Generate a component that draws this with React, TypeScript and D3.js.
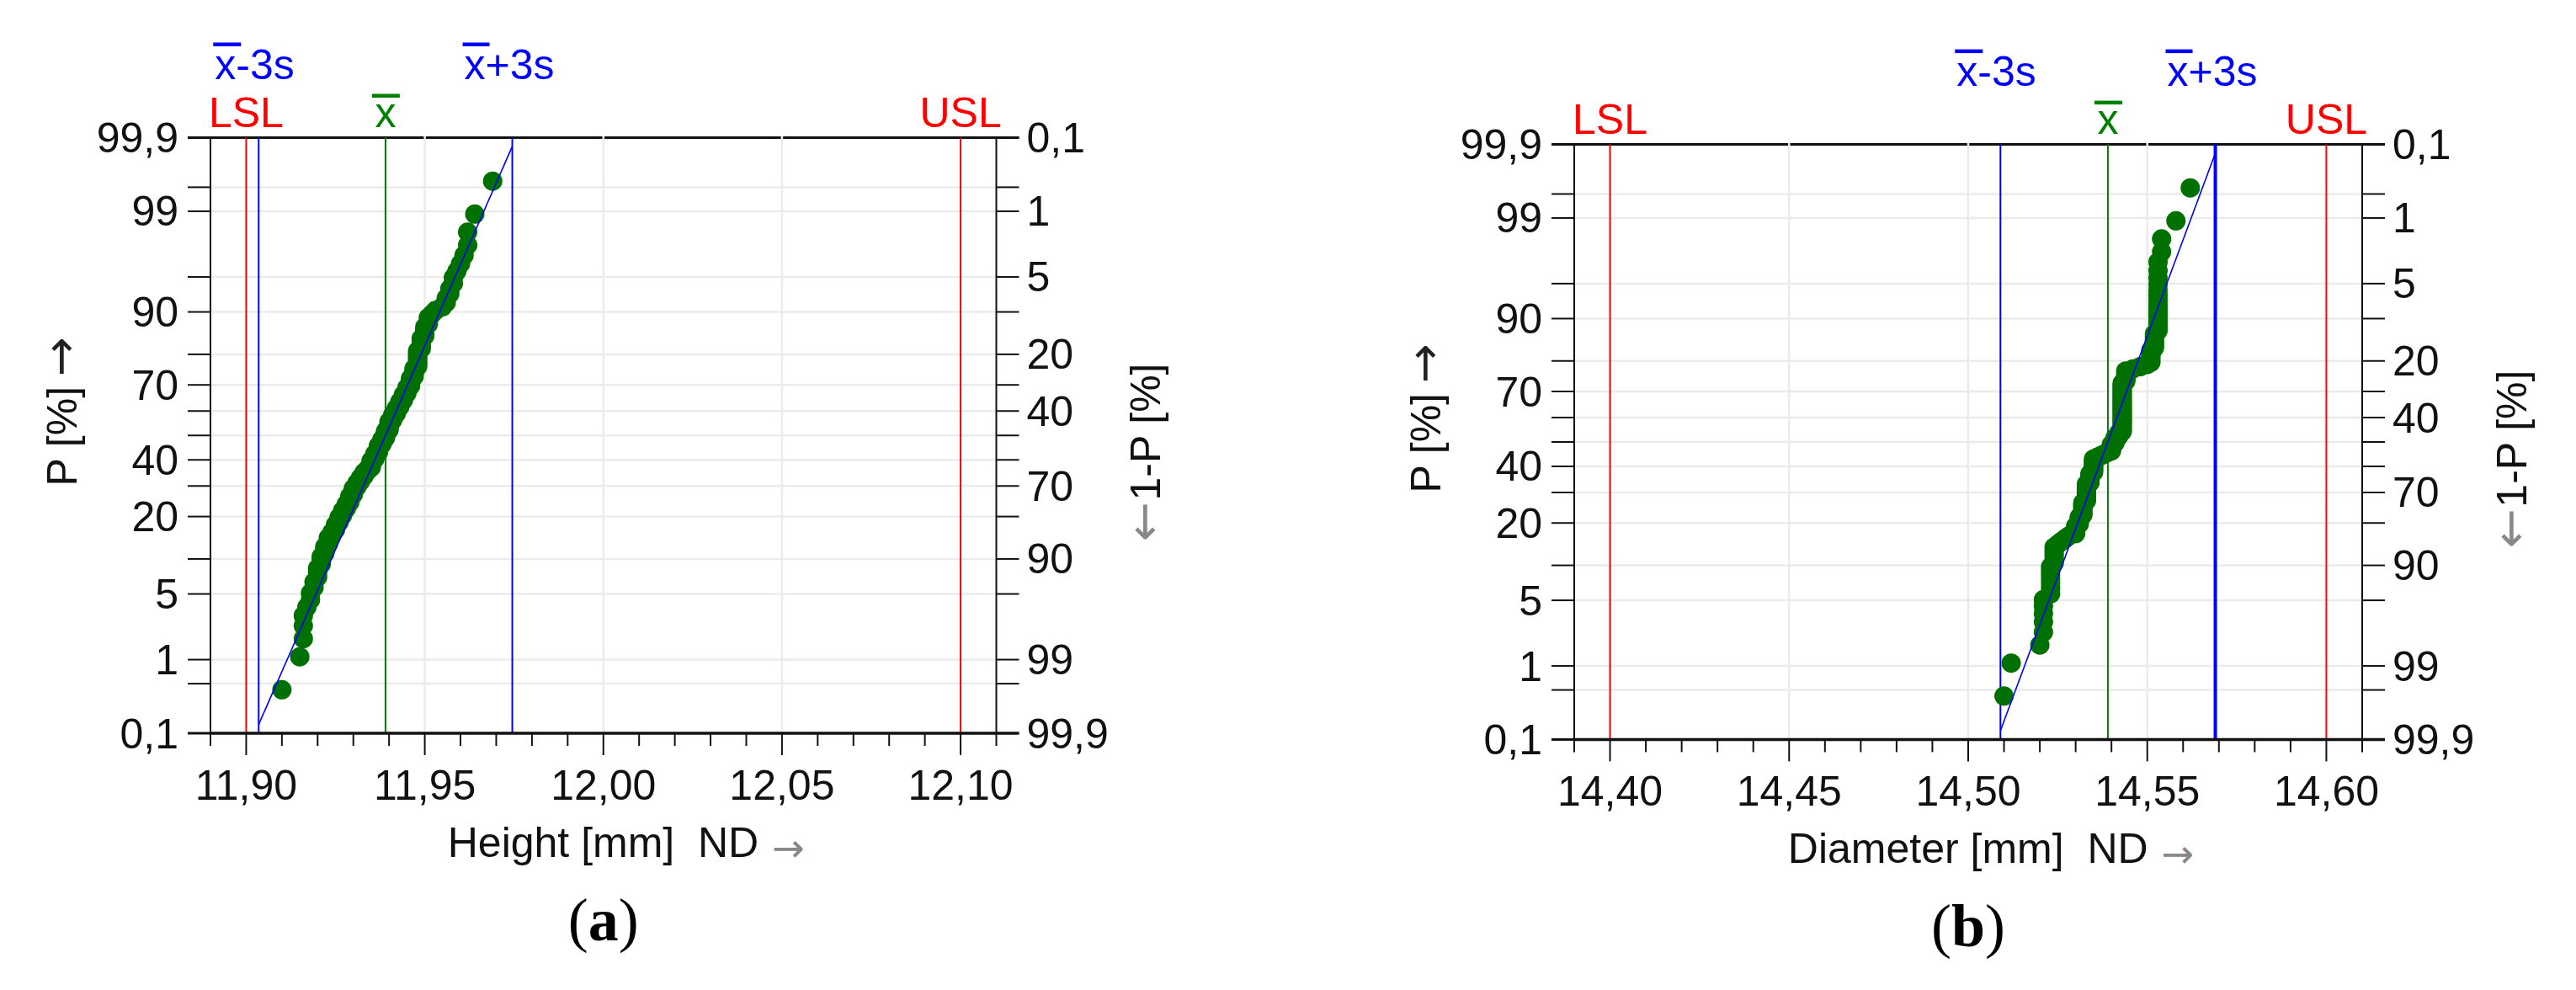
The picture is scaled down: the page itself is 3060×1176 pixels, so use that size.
import React from "react";
import * as d3 from "d3";

// measured values, sorted, as [value mm, how many parts]
const heightRuns: [number, number][] = [
  [11.91, 1], [11.915, 1], [11.916, 3], [11.917, 1], [11.918, 2], [11.919, 2],
  [11.92, 3], [11.921, 3], [11.922, 3], [11.923, 3], [11.924, 2], [11.925, 3],
  [11.926, 3], [11.927, 3], [11.928, 3], [11.929, 4], [11.93, 4], [11.931, 3],
  [11.932, 3], [11.933, 3], [11.934, 2], [11.935, 5], [11.936, 4], [11.937, 5],
  [11.938, 4], [11.939, 5], [11.94, 6], [11.941, 4], [11.942, 4], [11.943, 4],
  [11.944, 4], [11.945, 4], [11.946, 5], [11.947, 5], [11.948, 8], [11.949, 5],
  [11.95, 4], [11.951, 3], [11.952, 1], [11.953, 1], [11.955, 1], [11.956, 2],
  [11.957, 2], [11.958, 2], [11.959, 1], [11.96, 1], [11.961, 1], [11.962, 2],
  [11.964, 1], [11.969, 1],
];

const diameterRuns: [number, number][] = [
  [14.51, 1], [14.512, 1], [14.52, 1], [14.521, 5], [14.523, 7], [14.524, 6],
  [14.525, 1], [14.526, 1], [14.527, 1], [14.528, 1], [14.53, 4], [14.531, 4],
  [14.532, 7], [14.533, 10], [14.534, 6], [14.535, 9], [14.536, 1], [14.537, 1],
  [14.538, 1], [14.539, 1], [14.54, 5], [14.541, 4], [14.542, 3], [14.543, 29],
  [14.544, 6], [14.546, 1], [14.548, 1], [14.55, 1], [14.551, 6], [14.552, 6],
  [14.553, 15], [14.554, 2], [14.558, 1], [14.562, 1],
];

// [LSL, USL] and [x-3s, x, x+3s]
const heightSpec = [11.9, 12.1];
const heightStats = [11.9035, 11.939, 11.9745];
const diameterSpec = [14.4, 14.6];
const diameterStats = [14.509, 14.539, 14.569];

const heightDomain = [11.89, 12.11];
const diameterDomain = [14.39, 14.61];
const heightMajor = [11.9, 11.95, 12.0, 12.05, 12.1];
const diameterMajor = [14.4, 14.45, 14.5, 14.55, 14.6];

const pGrid = [0.1, 0.5, 1, 5, 10, 20, 30, 40, 50, 60, 70, 80, 90, 95, 99, 99.5, 99.9];
const pLeftLabels = [0.1, 1, 5, 20, 40, 70, 90, 99, 99.9];
const pRightLabels = [0.1, 1, 5, 20, 40, 70, 90, 99, 99.9]; // 1-P

const FONT = "'Liberation Sans', Arial, sans-serif";
const ARROW_FONT = "'DejaVu Sans', sans-serif";
const comma = (s: string) => s.replace(".", ",");

// inverse normal cdf (Acklam)
function invNorm(p: number) {
  const a = [-39.69683028665376, 220.9460984245205, -275.9285104469687, 138.357751867269, -30.66479806614716, 2.506628277459239];
  const b = [-54.47609879822406, 161.5858368580409, -155.6989798598866, 66.80131188771972, -13.28068155288572];
  const c = [-0.007784894002430293, -0.3223964580411365, -2.400758277161838, -2.549732539343734, 4.374664141464968, 2.938163982698783];
  const d = [0.007784695709041462, 0.3224671290700398, 2.445134137142996, 3.754408661907416];
  const pl = 0.02425;
  if (p < pl) {
    const q = Math.sqrt(-2 * Math.log(p));
    return (((((c[0] * q + c[1]) * q + c[2]) * q + c[3]) * q + c[4]) * q + c[5]) / ((((d[0] * q + d[1]) * q + d[2]) * q + d[3]) * q + 1);
  }
  if (p > 1 - pl) return -invNorm(1 - p);
  const q = p - 0.5;
  const r = q * q;
  return (((((a[0] * r + a[1]) * r + a[2]) * r + a[3]) * r + a[4]) * r + a[5]) * q /
    (((((b[0] * r + b[1]) * r + b[2]) * r + b[3]) * r + b[4]) * r + 1);
}

type Frame = { left: number; right: number; top: number; bottom: number };

function ProbPlot({ frame, domain, runs, spec, stats, major, xTitle, caption, hiWidth }: {
  frame: Frame; domain: number[]; runs: [number, number][]; spec: number[]; stats: number[];
  major: number[]; xTitle: string; caption: string; hiWidth: number;
}) {
  const { left, right, top, bottom } = frame;
  const x = d3.scaleLinear().domain(domain).range([left, right]);
  const y = d3.scaleLinear().domain([invNorm(0.001), invNorm(0.999)]).range([bottom, top]);
  const yP = (p: number) => y(invNorm(p / 100));
  const cx = (left + right) / 2;

  const values = runs.flatMap(([v, c]) => d3.range(c).map(() => v));
  const n = values.length;
  // Blom plotting positions
  const pts = values.map((v, i) => [x(v), y(invNorm((i + 1 - 0.375) / (n + 0.25)))]);

  const ticks = d3.range(Math.round(domain[0] * 100), Math.round(domain[1] * 100) + 1).map((k) => k / 100);
  const isMajor = (t: number) => major.some((m) => Math.abs(m - t) < 1e-6);
  const fit = d3.line()([[x(stats[0]), y(-3)], [x(stats[2]), y(3)]]) || "";

  return (
    <g fontFamily={FONT} fontSize={50}>
      {pGrid.map((p) => (
        <line key={"h" + p} x1={left} x2={right} y1={yP(p)} y2={yP(p)} stroke="#ebebeb" strokeWidth={2.5} />
      ))}
      <line x1={left - 27} x2={right + 27} y1={top} y2={top} stroke="#111" strokeWidth={3} />
      {major.filter((m) => m !== spec[0] && m !== spec[1]).map((m) => (
        <line key={"v" + m} x1={x(m)} x2={x(m)} y1={top - 2} y2={bottom} stroke="#ebebeb" strokeWidth={2.5} />
      ))}
      {/* axes */}
      <line x1={left} x2={left} y1={top} y2={bottom} stroke="#111" strokeWidth={2} />
      <line x1={right} x2={right} y1={top} y2={bottom} stroke="#111" strokeWidth={2} />
      {pGrid.map((p) => (
        <g key={"t" + p}>
          <line x1={left - 27} x2={left} y1={yP(p)} y2={yP(p)} stroke="#111" strokeWidth={2} />
          <line x1={right} x2={right + 27} y1={yP(p)} y2={yP(p)} stroke="#111" strokeWidth={2} />
        </g>
      ))}
      {pLeftLabels.map((p) => (
        <text key={"l" + p} x={left - 38} y={yP(p)} dy="0.35em" textAnchor="end" fill="#111">
          {comma(String(p))}
        </text>
      ))}
      {pRightLabels.map((q) => (
        <text key={"r" + q} x={right + 36} y={yP(100 - q)} dy="0.35em" fill="#111">
          {comma(String(q))}
        </text>
      ))}
      {ticks.map((t) => (
        <line key={"x" + t} x1={x(t)} x2={x(t)} y1={bottom} y2={bottom + (isMajor(t) ? 26 : 15)} stroke="#111" strokeWidth={2} />
      ))}
      {major.map((m) => (
        <text key={"xl" + m} x={x(m)} y={bottom + 79} textAnchor="middle" fill="#111">
          {comma(d3.format(".2f")(m))}
        </text>
      ))}

      {/* spec and process lines */}
      {spec.map((s) => (
        <line key={"s" + s} x1={x(s)} x2={x(s)} y1={top} y2={bottom} stroke="#ff0000" strokeWidth={2} />
      ))}
      <line x1={x(stats[0])} x2={x(stats[0])} y1={top} y2={bottom} stroke="#0000ff" strokeWidth={2} />
      <line x1={x(stats[2])} x2={x(stats[2])} y1={top} y2={bottom} stroke="#0000ff" strokeWidth={hiWidth} />
      <line x1={x(stats[1])} x2={x(stats[1])} y1={top} y2={bottom} stroke="#008000" strokeWidth={2} />

      {pts.map(([px, py], i) => (
        <circle key={i} cx={px} cy={py} r={11.5} fill="#007000" />
      ))}
      <path d={fit} stroke="#0000ff" strokeWidth={1.6} fill="none" />

      <line x1={left} x2={right + 27} y1={bottom} y2={bottom} stroke="#111" strokeWidth={3.5} />
      <line x1={left - 27} x2={left} y1={bottom} y2={bottom} stroke="#111" strokeWidth={3} />

      {/* header labels */}
      <text x={x(spec[0])} y={top - 13} textAnchor="middle" fill="#ff0000">LSL</text>
      <text x={x(spec[1])} y={top - 13} textAnchor="middle" fill="#ff0000">USL</text>
      <text x={x(stats[1])} y={top - 13} textAnchor="middle" fill="#008000">x</text>
      <rect x={x(stats[1]) - 16} y={top - 52} width={33} height={4.5} fill="#008000" />
      <text x={x(stats[0]) - 52} y={top - 70} fill="#0000ff">x-3s</text>
      <rect x={x(stats[0]) - 54} y={top - 113} width={33} height={4.5} fill="#0000ff" />
      <text x={x(stats[2]) - 57} y={top - 70} fill="#0000ff">x+3s</text>
      <rect x={x(stats[2]) - 59} y={top - 113} width={32} height={4.5} fill="#0000ff" />

      {/* axis titles */}
      <text x={cx + 27} y={bottom + 147} textAnchor="middle" fill="#111">
        {xTitle + "\u00A0\u00A0ND"}
        <tspan dx={16} dy={5} fill="#888" fontFamily={ARROW_FONT} fontSize={46}>→</tspan>
      </text>
      <text transform={`translate(${left - 159},${top + 414}) rotate(-90)`} fill="#111">
        P [%]<tspan fontFamily={ARROW_FONT} fontSize={56} dx={12} fill="#222">→</tspan>
      </text>
      <text transform={`translate(${right + 194.5},${top + 268}) rotate(-90)`} textAnchor="end" fill="#111">
        <tspan fill="#888" fontFamily={ARROW_FONT} fontSize={56}>←</tspan>
        <tspan dx={2}>1-P [%]</tspan>
      </text>

      <text x={cx} y={bottom + 246} textAnchor="middle" fontFamily="'Liberation Serif', 'DejaVu Serif', serif" fontSize={72} fill="#000">
        (<tspan fontWeight="bold">{caption}</tspan>)
      </text>
    </g>
  );
}

export default function App() {
  return (
    <div style={{ position: "absolute", left: 0, top: 0 }}>
      <svg width={3060} height={1176} style={{ display: "block", background: "#fff" }}>
        <ProbPlot
          frame={{ left: 250, right: 1183.5, top: 163.5, bottom: 871 }}
          domain={heightDomain}
          runs={heightRuns}
          spec={heightSpec}
          stats={heightStats}
          major={heightMajor}
          xTitle="Height [mm]"
          caption="a"
          hiWidth={2}
        />
        <ProbPlot
          frame={{ left: 1870, right: 2806, top: 171.6, bottom: 878.4 }}
          domain={diameterDomain}
          runs={diameterRuns}
          spec={diameterSpec}
          stats={diameterStats}
          major={diameterMajor}
          xTitle="Diameter [mm]"
          caption="b"
          hiWidth={4}
        />
      </svg>
    </div>
  );
}
